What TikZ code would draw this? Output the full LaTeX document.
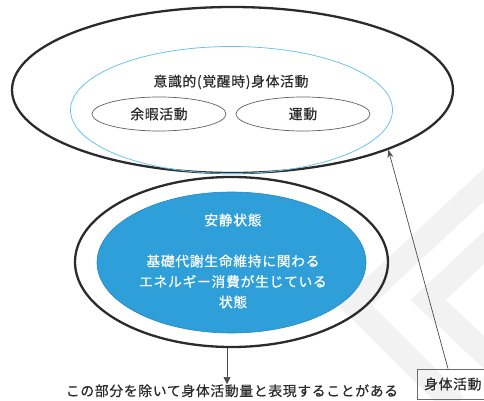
\documentclass[tikz,border=0pt]{standalone}
\usepackage{fontspec}
\setmainfont{Noto Sans CJK JP}[LetterSpace=5,FakeBold=0.6]
\usetikzlibrary{shapes.geometric,arrows.meta}
\definecolor{ink}{HTML}{2B2B2B}
\definecolor{skyline}{HTML}{6CC3EE}
\definecolor{bluefill}{HTML}{2E9FD9}
\definecolor{blueedge}{HTML}{2A86BE}
\definecolor{wm}{HTML}{F2F2F2}
\tikzset{
  bigring/.style={ellipse, draw=ink, line width=2.3pt, inner sep=0pt},
  subring/.style={ellipse, draw=ink!75, line width=0.7pt, inner sep=0pt},
  lbl/.style={font=\fontsize{13.8}{16}\selectfont, text=ink, inner sep=0pt},
  wlbl/.style={font=\fontsize{13.8}{20.5}\selectfont, text=white, inner sep=0pt, align=center},
  conn/.style={draw=ink!85, line width=0.7pt},
}
\begin{document}
\begin{tikzpicture}[x=1pt,y=-1pt]
\useasboundingbox (0,0) rectangle (484,401);
\clip (0,0) rectangle (484,401);
% watermark
\draw[wm, line width=24pt, line join=miter] (505,165) -- (355,305) -- (455,405);
\draw[wm, line width=24pt, line join=miter] (505,228) -- (428,300) -- (505,372);
% outer
\node[bigring, minimum width=441pt, minimum height=166pt] (outer) at (232.5,90) {};
\node[ellipse, draw=skyline, line width=0.8pt, inner sep=0pt, minimum width=322pt, minimum height=127pt] (aware) at (231.5,110) {};
\node[lbl] (awaretxt) at (231,82) {意識的(覚醒時)身体活動};
\node[subring, minimum width=134pt, minimum height=34pt] (leisure) at (159,114) {};
\node[lbl] at (leisure) {余暇活動};
\node[subring, minimum width=134pt, minimum height=34pt] (exercise) at (303,114) {};
\node[lbl] at (exercise) {運動};
% rest
\node[bigring, minimum width=313pt, minimum height=170pt] (rest) at (231.5,262) {};
\node[ellipse, fill=bluefill, draw=blueedge, line width=0.6pt, inner sep=0pt, minimum width=269pt, minimum height=141pt] (restin) at (231.5,262.5) {};
\node[wlbl] (resttitle) at (233,220) {安静状態};
\node[wlbl] (restdesc) at (233,281.5) {基礎代謝生命維持に関わる\\エネルギー消費が生じている\\状態};
% bottom note
\node[lbl, anchor=base] (note) at (232,396) {この部分を除いて身体活動量と表現することがある};
\draw[conn, -{Triangle[width=7pt,length=7pt]}] (rest.-93.3) -- (rest.-93.3 |- 0,384);
% box
\node[draw=ink!70, line width=0.7pt, minimum width=70pt, minimum height=30pt, inner sep=0pt] (pa) at (452,384) {};
\node[lbl, anchor=west] at (424,384) {身体活動};
\draw[conn, -{Stealth[width=6pt,length=8pt]}] (pa.north -| 448,0) -- (outer.-21);
\end{tikzpicture}
\end{document}
